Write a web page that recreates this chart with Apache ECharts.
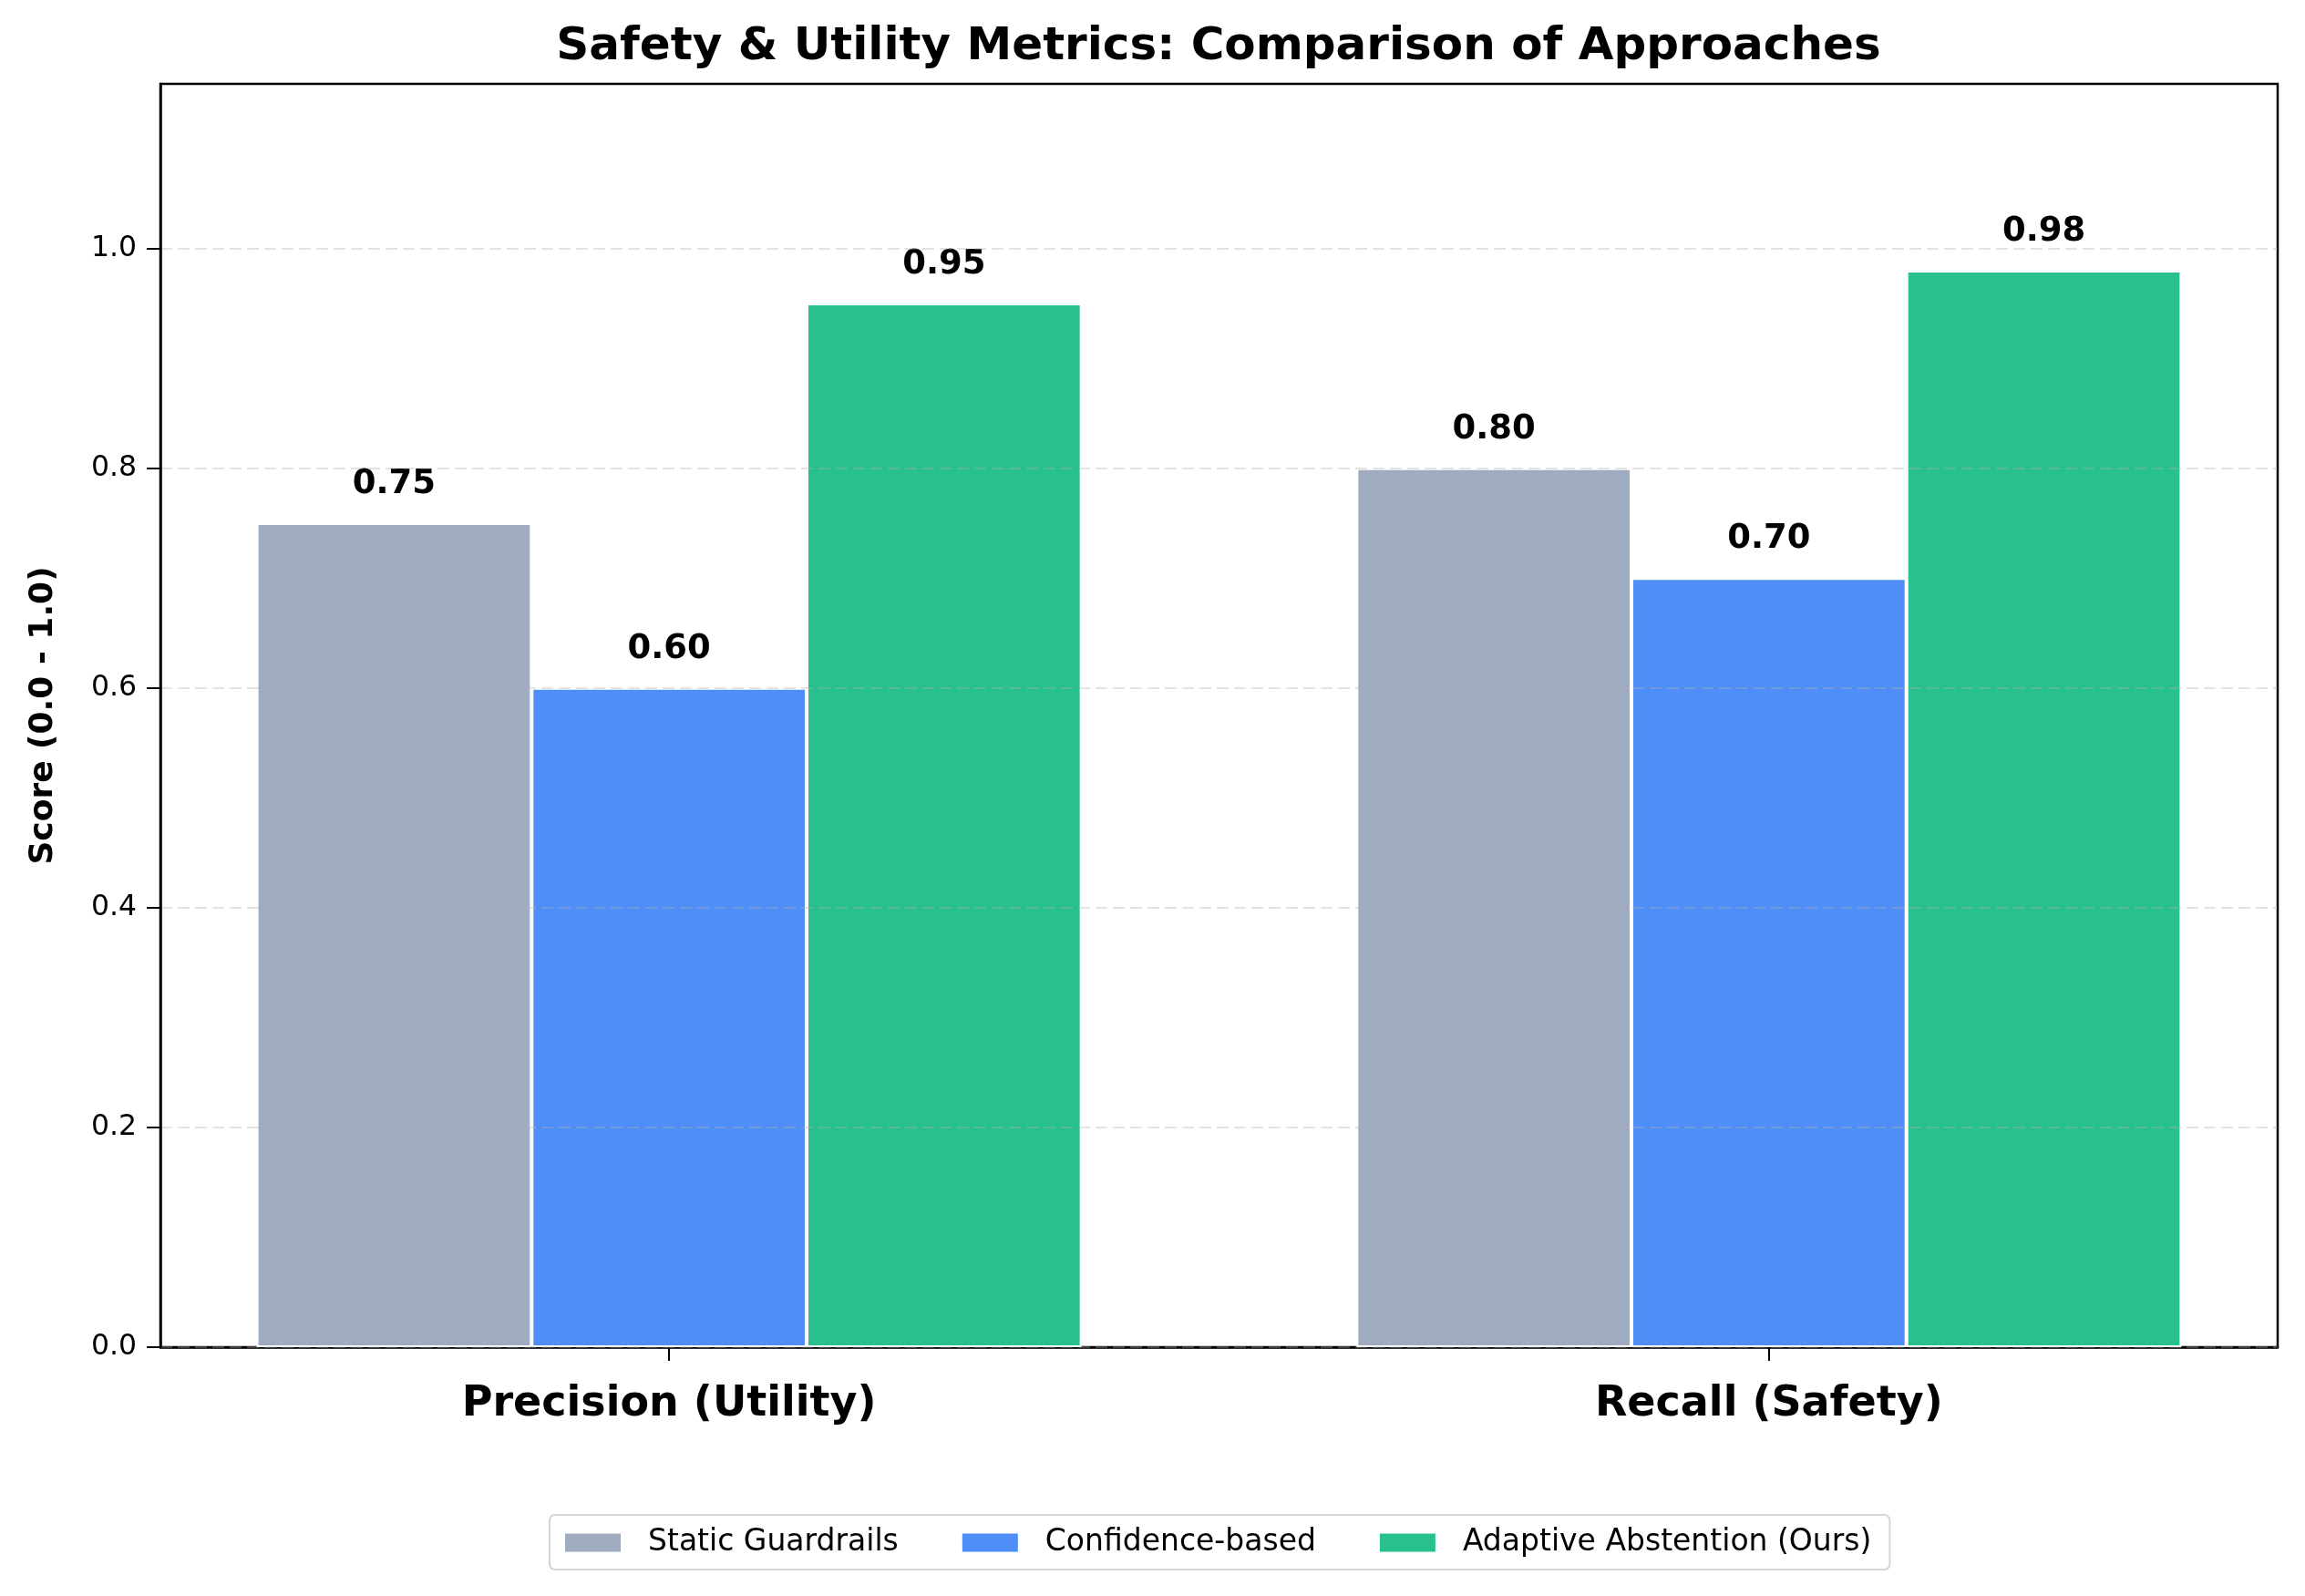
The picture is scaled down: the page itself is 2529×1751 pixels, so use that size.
<!DOCTYPE html>
<html>
<head>
<meta charset="utf-8">
<script src="https://cdn.jsdelivr.net/npm/echarts@6/dist/echarts.min.js"></script>
<style>
html,body{margin:0;padding:0;background:#fff;}
#chart{width:2529px;height:1751px;}
</style>
</head>
<body>
<div id="chart"></div>
<script>
const categories = ['Precision (Utility)', 'Recall (Safety)'];
const seriesNames = ['Static Guardrails', 'Confidence-based', 'Adaptive Abstention (Ours)'];
const staticGuardrails = [0.75, 0.80];
const confidenceBased = [0.60, 0.70];
const adaptiveAbstention = [0.95, 0.98];
const seriesColors = ['#9FACBF', '#4F8EF7', '#28C08E'];
const yTicks = [0.0, 0.2, 0.4, 0.6, 0.8, 1.0];

const FONT = 'DejaVu Sans';
const chart = echarts.init(document.getElementById('chart'), null, {renderer: 'canvas'});

const allValues = [staticGuardrails, confidenceBased, adaptiveAbstention];
const series = allValues.map((vals, s) => ({
  name: seriesNames[s],
  type: 'bar',
  data: vals.map((v, i) => [i, v]),
  barWidth: '25%',
  barGap: '0%',
  itemStyle: {color: seriesColors[s], borderColor: '#ffffff', borderWidth: 2},
  label: {
    show: true, position: 'top', distance: 24,
    formatter: p => p.value[1].toFixed(2),
    fontFamily: FONT, fontWeight: 'bold', fontSize: 37, color: '#000'
  },
  animation: false
}));

chart.setOption({
  backgroundColor: '#ffffff',
  animation: false,
  title: {
    text: 'Safety & Utility Metrics: Comparison of Approaches',
    left: 1332, top: 22, textAlign: 'center',
    textStyle: {fontFamily: FONT, fontWeight: 'bold', fontSize: 50, color: '#000'}
  },
  legend: {
    data: seriesNames,
    left: 603, top: 1662,
    orient: 'horizontal',
    icon: 'rect',
    itemWidth: 63, itemHeight: 22, itemGap: 68,
    padding: [14, 20, 13, 15],
    backgroundColor: '#fff',
    borderColor: '#d4d4d4', borderWidth: 2, borderRadius: 6,
    textStyle: {fontFamily: FONT, fontSize: 33, color: '#000', padding: [0, 0, 0, 24]}
  },
  grid: {
    left: 176, right: 30, top: 92, bottom: 273,
    show: true, borderColor: '#000', borderWidth: 2.5, backgroundColor: 'transparent',
    containLabel: false
  },
  xAxis: {
    type: 'value', min: -0.4625, max: 1.4625,
    axisLine: {show: true, onZero: false, lineStyle: {color: '#000', width: 2.5}},
    axisTick: {show: true, customValues: [0, 1], length: 15, lineStyle: {color: '#000', width: 2}},
    axisLabel: {
      customValues: [0, 1],
      formatter: v => categories[Math.round(v)] || '',
      margin: 40,
      fontFamily: FONT, fontWeight: 'bold', fontSize: 46, color: '#000'
    },
    splitLine: {show: false}
  },
  yAxis: {
    type: 'value', min: 0, max: 1.15, interval: 0.2,
    z: 10,
    name: 'Score (0.0 - 1.0)',
    nameLocation: 'middle', nameGap: 110,
    nameTextStyle: {fontFamily: FONT, fontWeight: 'bold', fontSize: 36, color: '#000'},
    axisLine: {show: true, onZero: false, lineStyle: {color: '#000', width: 2.5}},
    axisTick: {show: true, length: 15, lineStyle: {color: '#000', width: 2}},
    axisLabel: {
      formatter: v => (yTicks.some(t => Math.abs(t - v) < 1e-9) ? v.toFixed(1) : ''),
      margin: 26,
      showMaxLabel: false,
      fontFamily: FONT, fontSize: 31.5, color: '#000'
    },
    splitLine: {show: true, showMaxLine: false, lineStyle: {color: 'rgba(176,176,176,0.35)', width: 2, type: [13, 6]}}
  },
  series: series
});
</script>
</body>
</html>
